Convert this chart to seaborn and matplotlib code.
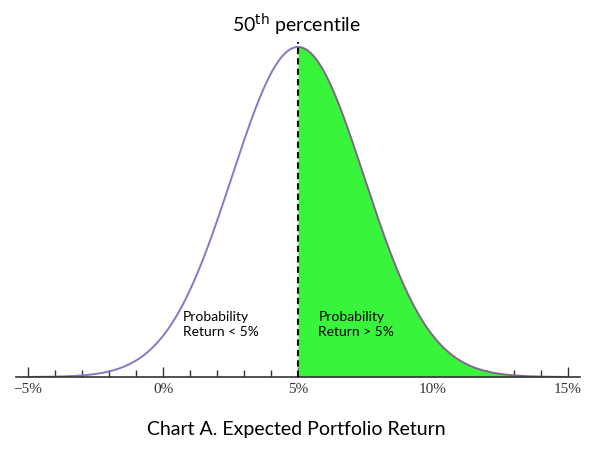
import numpy as np
import pandas as pd
import seaborn as sns
import matplotlib.pyplot as plt

# distribution (in %)
mean_return = 5.0
sd_return = 2.45
tick_values = [-5, 0, 5, 10, 15]
tick_labels = ["\u22125%", "0%", "5%", "10%", "15%"]
minor_values = list(range(-5, 16))

# normal curve from the parameters
x = np.linspace(-5, 15, 801)
y = np.exp(-0.5 * ((x - mean_return) / sd_return) ** 2) / (sd_return * np.sqrt(2 * np.pi))
df = pd.DataFrame({"ret": x, "dens": y})
peak = y.max()

sns.set_style("white")
plt.rcParams['font.family'] = ['Lato', 'DejaVu Sans']

fig = plt.figure(figsize=(6.04, 4.57), dpi=100)
# axis line at y=377px, curve peak at y=47px
ax = fig.add_axes([16 / 604, (457 - 377) / 457, 564 / 604, 340 / 457])
px_per_pct = 27.0
ax.set_xlim(-5 - 12 / px_per_pct, 15 + 12 / px_per_pct)
ax.set_ylim(0, peak * 340 / 330)

left = df[df["ret"] <= mean_return]
right = df[df["ret"] >= mean_return]
ax.fill_between(right["ret"], 0, right["dens"], color="#38f53b", lw=0, zorder=1)
sns.lineplot(data=left, x="ret", y="dens", ax=ax, color="#7f7cc4", lw=1.4, zorder=2)
sns.lineplot(data=right, x="ret", y="dens", ax=ax, color="#85638f", lw=1.4, zorder=2)

# dashed 50th percentile line
ax.plot([mean_return, mean_return], [0, peak * 1.015], color="black", lw=1.5,
        ls=(0, (3, 2)), zorder=3, clip_on=False)

for s in ["top", "left", "right"]:
    ax.spines[s].set_visible(False)
ax.spines["bottom"].set_color("#333333")
ax.spines["bottom"].set_linewidth(1.2)
ax.set_yticks([])
ax.set_xticks(tick_values)
ax.set_xticklabels(tick_labels, fontfamily="Liberation Serif", fontsize=11, color="#333333")
ax.set_xticks(minor_values, minor=True)
ax.tick_params(axis="x", which="both", bottom=True)
ax.tick_params(axis="x", which="major", direction="in", length=7, width=1, color="#333333", pad=4)
ax.tick_params(axis="x", which="minor", direction="in", length=5, width=1, color="#333333")
ax.set_xlabel("")
ax.set_ylabel("")

fig.text(296 / 604, 1 - 25 / 457, "50$^{\\mathrm{th}}$ percentile", ha="center", va="center",
         fontsize=14, color="black")
ax.text(0.75, peak * 0.16, "Probability\nReturn < 5%", fontsize=10, va="center", ha="left",
        linespacing=1.3, color="black")
ax.text(5.75, peak * 0.16, "Probability\nReturn > 5%", fontsize=10, va="center", ha="left",
        linespacing=1.3, color="black")
fig.text(296 / 604, 1 - 430 / 457, "Chart A. Expected Portfolio Return", ha="center",
         va="center", fontsize=14, color="black")

fig.savefig("out.png", dpi=100)
